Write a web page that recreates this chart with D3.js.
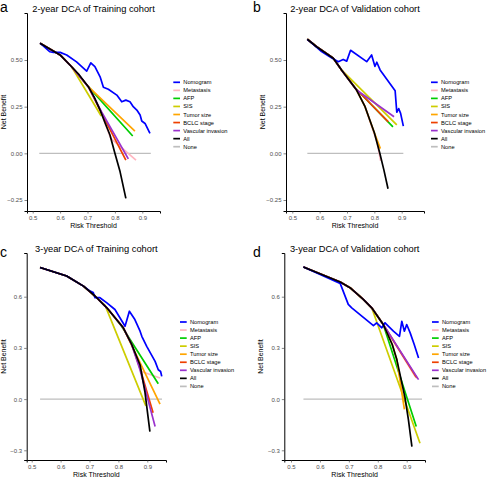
<!DOCTYPE html>
<html><head><meta charset="utf-8">
<script src="https://cdn.jsdelivr.net/npm/d3@7"></script>
<style>body{margin:0;background:#fff}svg{display:block}text{font-family:"Liberation Sans",Arial,sans-serif}</style>
</head><body><svg id="chart" width="500" height="479"></svg>
<script>
const seriesNames = ["Nomogram","Metastasis","AFP","SIS","Tumor size","BCLC stage","Vascular invasion","All","None"];
const seriesColors = ["#0000FF","#FFB6C1","#00CD00","#CDCD00","#FFA500","#EE4000","#9A32CD","#000000","#BEBEBE"];
const drawOrder = ["None","Metastasis","AFP","SIS","Tumor size","BCLC stage","Vascular invasion","Nomogram","All"];
const xTicks = [0.5,0.6,0.7,0.8,0.9];
const yTicks2 = [-0.25,0,0.25,0.5];
const yTicks3 = [-0.3,0,0.3,0.6];
const panelTitles = ["2-year DCA of Training cohort","2-year DCA of Validation cohort","3-year DCA of Training cohort","3-year DCA of Validation cohort"];
const panelTags = ["a","b","c","d"];

// ---- Panel a ----
const a_nomogram = [[0.527,0.59],[0.563,0.544],[0.575,0.541],[0.6,0.541],[0.624,0.527],[0.66,0.49],[0.697,0.44],[0.712,0.485],[0.727,0.464],[0.746,0.41],[0.758,0.354],[0.776,0.343],[0.807,0.312],[0.825,0.276],[0.84,0.285],[0.855,0.276],[0.867,0.25],[0.88,0.232],[0.892,0.205],[0.898,0.173],[0.91,0.16],[0.928,0.107]];
const a_all = [[0.527,0.59],[0.6,0.527],[0.642,0.464],[0.67,0.42],[0.703,0.357],[0.725,0.3],[0.746,0.232],[0.765,0.16],[0.782,0.098],[0.8,0.0],[0.819,-0.099],[0.84,-0.241]];
const a_sis = [[0.527,0.59],[0.6,0.527],[0.642,0.464],[0.75,0.2]];
const a_afp = [[0.527,0.59],[0.6,0.527],[0.642,0.464],[0.703,0.357],[0.865,0.093]];
const a_tumor = [[0.527,0.59],[0.6,0.527],[0.642,0.464],[0.703,0.357],[0.873,0.119]];
const a_meta = [[0.527,0.59],[0.6,0.527],[0.642,0.464],[0.703,0.357],[0.746,0.232],[0.785,0.08],[0.877,-0.036]];
const a_bclc = [[0.527,0.59],[0.6,0.527],[0.642,0.464],[0.703,0.357],[0.75,0.22],[0.84,-0.036]];
const a_vasc = [[0.527,0.59],[0.6,0.527],[0.642,0.464],[0.703,0.357],[0.752,0.22],[0.849,-0.03]];
const a_none = [[0.524,0],[0.931,0]];

// ---- Panel b ----
const b_nomogram = [[0.555,0.611],[0.58,0.58],[0.607,0.545],[0.64,0.515],[0.668,0.491],[0.686,0.503],[0.699,0.494],[0.713,0.552],[0.772,0.491],[0.79,0.527],[0.802,0.466],[0.809,0.488],[0.821,0.447],[0.876,0.335],[0.882,0.22],[0.889,0.24],[0.896,0.214],[0.906,0.146]];
const b_all = [[0.555,0.611],[0.589,0.571],[0.65,0.509],[0.68,0.447],[0.735,0.339],[0.766,0.25],[0.8,0.11],[0.82,0.0],[0.835,-0.09],[0.85,-0.19]];
const b_sis = [[0.555,0.611],[0.589,0.571],[0.65,0.509],[0.68,0.447],[0.882,0.152]];
const b_vasc = [[0.555,0.611],[0.589,0.571],[0.65,0.509],[0.68,0.447],[0.735,0.339],[0.872,0.196]];
const b_afp = [[0.555,0.611],[0.589,0.571],[0.65,0.509],[0.68,0.447],[0.73,0.35],[0.868,0.142]];
const b_bclc = [[0.555,0.611],[0.589,0.571],[0.65,0.509],[0.68,0.447],[0.73,0.35],[0.851,0.169]];
const b_tumor = [[0.555,0.611],[0.589,0.571],[0.65,0.509],[0.68,0.447],[0.735,0.339],[0.766,0.25],[0.8,0.11],[0.822,0.025]];
const b_meta = [[0.555,0.611],[0.589,0.571],[0.65,0.509],[0.68,0.447],[0.735,0.339],[0.766,0.25],[0.81,0.06],[0.823,-0.04]];
const b_none = [[0.555,0],[0.906,0]];

// ---- Panel c ----
const c_nomogram = [[0.529,0.771],[0.621,0.721],[0.679,0.662],[0.702,0.633],[0.713,0.624],[0.719,0.594],[0.736,0.594],[0.759,0.565],[0.788,0.525],[0.823,0.427],[0.838,0.515],[0.857,0.466],[0.875,0.398],[0.881,0.368],[0.898,0.309],[0.927,0.221],[0.938,0.172],[0.946,0.162],[0.95,0.133]];
const c_all = [[0.529,0.771],[0.621,0.721],[0.679,0.662],[0.719,0.604],[0.76,0.535],[0.817,0.418],[0.846,0.32],[0.875,0.2],[0.892,0.04],[0.909,-0.19]];
const c_sis = [[0.529,0.771],[0.621,0.721],[0.679,0.662],[0.719,0.604],[0.754,0.549],[0.895,-0.04]];
const c_afp = [[0.529,0.771],[0.621,0.721],[0.679,0.662],[0.719,0.604],[0.76,0.535],[0.81,0.43],[0.938,0.09]];
const c_tumor = [[0.529,0.771],[0.621,0.721],[0.679,0.662],[0.719,0.604],[0.76,0.535],[0.817,0.418],[0.944,-0.03]];
const c_meta = [[0.529,0.771],[0.621,0.721],[0.679,0.662],[0.719,0.604],[0.76,0.535],[0.817,0.418],[0.85,0.3],[0.88,0.162],[0.944,0.124]];
const c_bclc = [[0.529,0.771],[0.621,0.721],[0.679,0.662],[0.719,0.604],[0.76,0.535],[0.817,0.418],[0.846,0.32],[0.875,0.18],[0.92,-0.08]];
const c_vasc = [[0.529,0.771],[0.621,0.721],[0.679,0.662],[0.719,0.604],[0.76,0.535],[0.817,0.418],[0.846,0.32],[0.875,0.17],[0.927,-0.16]];
const c_none = [[0.529,0],[0.951,0]];

// ---- Panel d ----
const d_nomogram = [[0.543,0.774],[0.67,0.678],[0.698,0.555],[0.71,0.535],[0.785,0.431],[0.796,0.447],[0.814,0.418],[0.825,0.447],[0.854,0.398],[0.875,0.368],[0.883,0.456],[0.892,0.398],[0.9,0.437],[0.912,0.388],[0.926,0.32],[0.941,0.241]];
const d_all = [[0.543,0.774],[0.67,0.686],[0.704,0.653],[0.75,0.584],[0.779,0.535],[0.819,0.437],[0.85,0.32],[0.866,0.23],[0.894,0.01],[0.906,-0.122],[0.918,-0.279]];
const d_sis = [[0.543,0.774],[0.67,0.686],[0.704,0.653],[0.75,0.584],[0.779,0.535],[0.946,-0.259]];
const d_tumor = [[0.543,0.774],[0.67,0.686],[0.704,0.653],[0.75,0.584],[0.779,0.535],[0.819,0.437],[0.85,0.32],[0.866,0.23],[0.892,-0.06]];
const d_afp = [[0.543,0.774],[0.67,0.686],[0.704,0.653],[0.75,0.584],[0.779,0.535],[0.819,0.437],[0.933,-0.16]];
const d_bclc = [[0.543,0.774],[0.67,0.686],[0.704,0.653],[0.75,0.584],[0.779,0.535],[0.819,0.437],[0.935,0.124]];
const d_vasc = [[0.543,0.774],[0.67,0.686],[0.704,0.653],[0.75,0.584],[0.779,0.535],[0.819,0.437],[0.941,0.114]];
const d_meta = [[0.543,0.774],[0.67,0.686],[0.704,0.653],[0.75,0.584],[0.779,0.535],[0.819,0.437],[0.93,0.13]];
const d_none = [[0.543,0],[0.953,0]];

const panelData = [
  {"Nomogram":a_nomogram,"Metastasis":a_meta,"AFP":a_afp,"SIS":a_sis,"Tumor size":a_tumor,"BCLC stage":a_bclc,"Vascular invasion":a_vasc,"All":a_all,"None":a_none},
  {"Nomogram":b_nomogram,"Metastasis":b_meta,"AFP":b_afp,"SIS":b_sis,"Tumor size":b_tumor,"BCLC stage":b_bclc,"Vascular invasion":b_vasc,"All":b_all,"None":b_none},
  {"Nomogram":c_nomogram,"Metastasis":c_meta,"AFP":c_afp,"SIS":c_sis,"Tumor size":c_tumor,"BCLC stage":c_bclc,"Vascular invasion":c_vasc,"All":c_all,"None":c_none},
  {"Nomogram":d_nomogram,"Metastasis":d_meta,"AFP":d_afp,"SIS":d_sis,"Tumor size":d_tumor,"BCLC stage":d_bclc,"Vascular invasion":d_vasc,"All":d_all,"None":d_none}
];

// layout (pixel geometry)
const layouts = [
  {left:27, right:160, top:13, bottom:211, x05:32.7, x09:142.3, yA:0.5, yApx:60, yB:-0.25, yBpx:200, yTicks:yTicks2, yFmt:".2f", tagX:0, tagY:12, legX:173.3, legY:82.3},
  {left:286, right:424, top:13, bottom:211, x05:292.3, x09:401.7, yA:0.5, yApx:60, yB:-0.25, yBpx:200, yTicks:yTicks2, yFmt:".2f", tagX:253, tagY:12, legX:431, legY:82.3},
  {left:26.7, right:166, top:253, bottom:460, x05:31.7, x09:147.3, yA:0.6, yApx:296.7, yB:-0.3, yBpx:450.3, yTicks:yTicks3, yFmt:".1f", tagX:0, tagY:257, legX:180, legY:322},
  {left:284.3, right:425, top:253, bottom:460, x05:291, x09:406.7, yA:0.6, yApx:296.7, yB:-0.3, yBpx:450.3, yTicks:yTicks3, yFmt:".1f", tagX:253, tagY:257, legX:432, legY:322}
];

const svg = d3.select("#chart");
const colorOf = d3.scaleOrdinal().domain(seriesNames).range(seriesColors);

layouts.forEach((L, i) => {
  const g = svg.append("g");
  const x0 = d3.scaleLinear().domain([0.5,0.9]).range([L.x05,L.x09]);
  const y0 = d3.scaleLinear().domain([L.yB,L.yA]).range([L.yBpx,L.yApx]);
  const x = d3.scaleLinear().domain([x0.invert(L.left), x0.invert(L.right)]).range([L.left, L.right]);
  const y = d3.scaleLinear().domain([y0.invert(L.bottom), y0.invert(L.top)]).range([L.bottom, L.top]);

  // axes
  const xa = g.append("g").attr("transform",`translate(0,${L.bottom})`)
    .call(d3.axisBottom(x).tickValues(xTicks).tickFormat(d3.format(".1f")).tickSize(2.5).tickPadding(2));
  const ya = g.append("g").attr("transform",`translate(${L.left},0)`)
    .call(d3.axisLeft(y).tickValues(L.yTicks).tickFormat(d3.format(L.yFmt)).tickSize(2.5).tickPadding(2));
  [xa, ya].forEach(a => {
    a.select(".domain").attr("stroke","#000").attr("stroke-width",1);
    a.selectAll(".tick line").attr("stroke","#333").attr("stroke-width",0.6);
    a.selectAll(".tick text").attr("fill","#4D4D4D").style("font-size","6px").style("font-family","Liberation Sans, Arial, sans-serif");
  });

  // lines
  const line = d3.line().x(d => x(d[0])).y(d => y(d[1]));
  const data = panelData[i];
  drawOrder.forEach(name => {
    const pts = data[name];
    g.append("path").datum(pts).attr("d", line)
      .attr("fill","none").attr("stroke", colorOf(name))
      .attr("stroke-width", name === "None" ? 1.2 : 1.7)
      .attr("stroke-linejoin","round").attr("stroke-linecap","butt");
  });

  // titles
  g.append("text").attr("x",(L.left+L.right)/2).attr("y",L.top-1.5).attr("text-anchor","middle")
    .style("font-size","9.3px").attr("fill","#000").text(panelTitles[i]);
  g.append("text").attr("x",L.tagX).attr("y",L.tagY).style("font-size","14px").attr("fill","#000").text(panelTags[i]);
  g.append("text").attr("x",(L.left+L.right)/2).attr("y",L.bottom+17).attr("text-anchor","middle")
    .style("font-size","7px").attr("fill","#000").text("Risk Threshold");
  g.append("text").attr("transform",`translate(${L.left-21},${(L.top+L.bottom)/2}) rotate(-90)`).attr("text-anchor","middle")
    .style("font-size","7px").attr("fill","#000").text("Net Benefit");

  // legend
  const leg = g.append("g").attr("transform",`translate(${L.legX},${L.legY})`);
  seriesNames.forEach((name, k) => {
    const row = leg.append("g").attr("transform",`translate(0,${k*8.05})`);
    row.append("line").attr("x1",0).attr("x2",6.7).attr("y1",0).attr("y2",0)
      .attr("stroke",colorOf(name)).attr("stroke-width",1.7);
    row.append("text").attr("x",10).attr("y",2).style("font-size","5.7px").attr("fill","#000").text(name);
  });
});
</script></body></html>
